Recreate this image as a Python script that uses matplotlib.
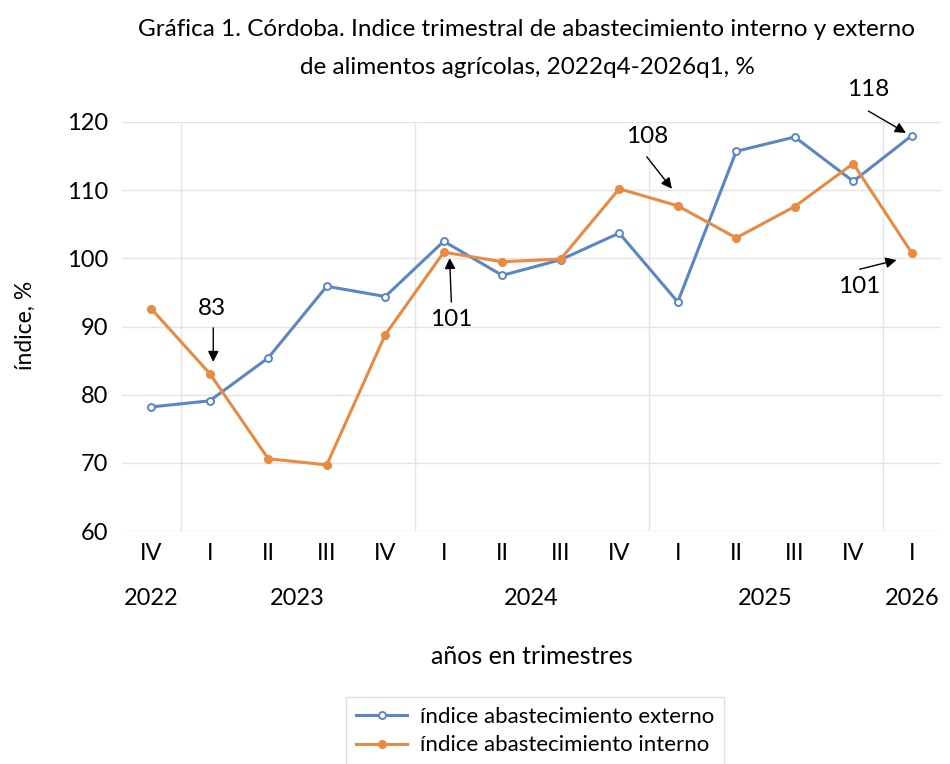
import matplotlib.pyplot as plt
from matplotlib.transforms import blended_transform_factory

plt.rcParams['font.family'] = ['Lato', 'DejaVu Sans']

# --- datos ---
trimestres = ['IV', 'I', 'II', 'III', 'IV', 'I', 'II', 'III', 'IV', 'I', 'II', 'III', 'IV', 'I']
anios = ['2022', '2023', '2024', '2025', '2026']
externo = [78.2, 79.1, 85.4, 95.9, 94.4, 102.5, 97.5, 99.8, 103.7, 93.6, 115.7, 117.8, 111.3, 118.0]
interno = [92.6, 83.1, 70.6, 69.7, 88.8, 100.9, 99.5, 99.9, 110.2, 107.7, 103.0, 107.6, 113.9, 100.8]

azul = '#5b86c6'
naranja = '#e98a42'

fig = plt.figure(figsize=(9.5, 7.64), dpi=100)
ax = fig.add_axes([122 / 950, 1 - 531 / 764, 819 / 950, 409 / 764])

x = list(range(len(trimestres)))
ax.plot(x, externo, color=azul, lw=2.2, marker='o', ms=5, mfc='white', mec=azul, mew=1.4,
        label='índice abastecimiento externo', zorder=3)
ax.plot(x, interno, color=naranja, lw=2.2, marker='o', ms=5.5, mfc=naranja, mec=naranja,
        label='índice abastecimiento interno', zorder=3)

ax.set_xlim(-0.5, len(trimestres) - 0.5)
ax.set_ylim(60, 120)
ax.set_yticks(range(60, 121, 10))
ax.yaxis.grid(True, color='#e4e4e4', lw=1)
for sep in [0.5, 4.5, 8.5, 12.5]:
    ax.axvline(sep, color='#e4e4e4', lw=1, zorder=0)
for s in ax.spines.values():
    s.set_visible(False)
ax.set_xticks(x)
ax.set_xticklabels(trimestres)
ax.tick_params(axis='both', length=0, labelsize=17)
ax.tick_params(axis='x', pad=9)
ax.tick_params(axis='y', pad=10)

# años (segundo nivel de categorías)
trans = blended_transform_factory(ax.transData, ax.transAxes)
pos_anios = [0, 2.5, 6.5, 10.5, 13]
for px, a in zip(pos_anios, anios):
    ax.text(px, -0.164, a, transform=trans, ha='center', va='center', fontsize=17)

ax.text(0.5, -0.308, 'años en trimestres', transform=ax.transAxes, ha='center', va='center', fontsize=18)
fig.text(25 / 950, 1 - 325 / 764, 'índice, %', rotation=90, ha='center', va='center', fontsize=16.5)

fig.text(527 / 950, 1 - 30 / 764, 'Gráfica 1. Córdoba. Indice trimestral de abastecimiento interno y externo',
         ha='center', va='center', fontsize=17.5)
fig.text(527 / 950, 1 - 68 / 764, 'de alimentos agrícolas, 2022q4-2026q1, %',
         ha='center', va='center', fontsize=17.5)

# anotaciones con flechas
notas = [
    (interno[1], (1.06, 84.8), (1.06, 89.8), (1.04, 92.6)),
    (interno[5], (5.10, 100.05), (5.13, 93.6), (5.13, 91.0)),
    (interno[9], (8.90, 110.2), (8.47, 114.9), (8.47, 117.9)),
    (externo[13], (12.90, 118.4), (12.26, 121.6), (12.26, 124.8)),
    (interno[13], (12.74, 99.75), (12.11, 98.4), (12.11, 95.8)),
]
for val, tip, start, txt in notas:
    ax.annotate('', xy=tip, xytext=start, annotation_clip=False,
                arrowprops=dict(arrowstyle='-|>', color='black', lw=1, mutation_scale=16,
                                shrinkA=0, shrinkB=0))
    ax.text(txt[0], txt[1], f'{round(val)}', ha='center', va='center', fontsize=17.5, clip_on=False)

leg = fig.legend(loc='center', bbox_to_anchor=(535 / 950, 1 - 731 / 764), fontsize=16,
                 frameon=True, fancybox=False, edgecolor='#d9d9d9', handlelength=2.3,
                 handletextpad=0.55, labelspacing=0.4, borderpad=0.45, borderaxespad=0)
leg.get_frame().set_linewidth(1)

fig.savefig('out.png', dpi=100)
